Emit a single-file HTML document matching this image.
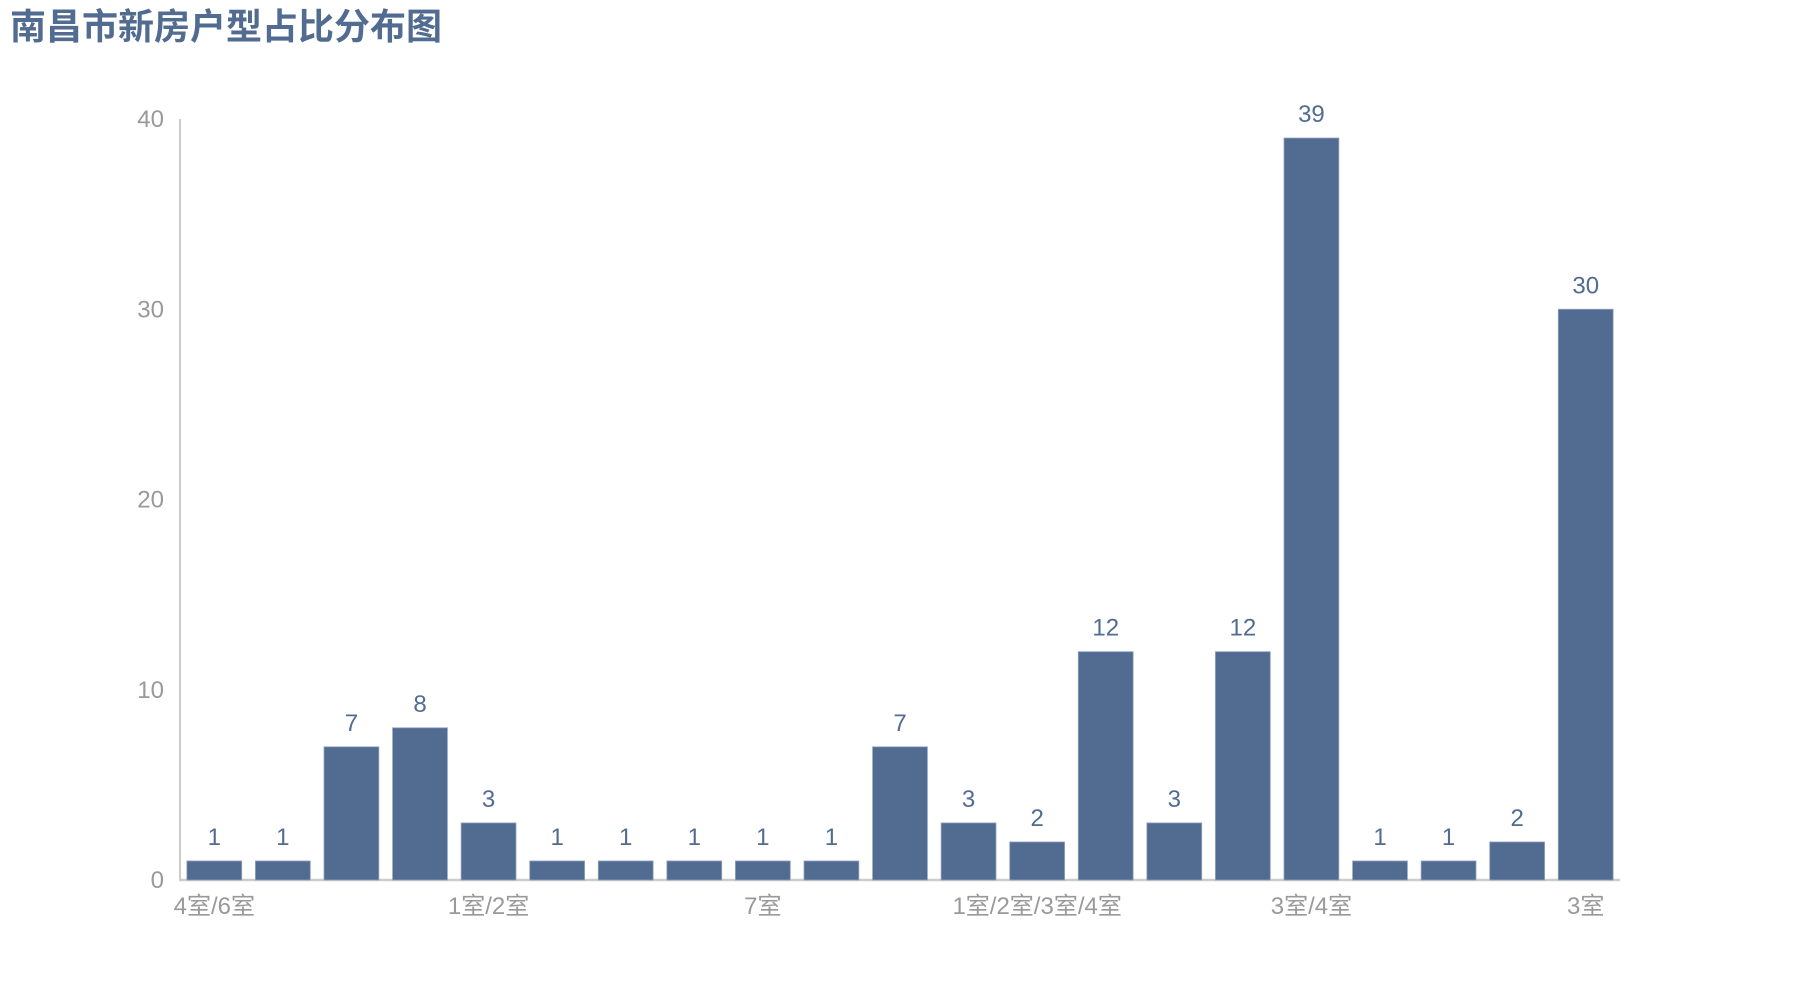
<!DOCTYPE html>
<html><head><meta charset="utf-8">
<style>
html,body{margin:0;padding:0;background:#fff;}
svg{display:block;}
text{font-family:"Liberation Sans","Noto Sans CJK SC",sans-serif;}
</style></head>
<body>
<svg id="chart" width="1800" height="1000" viewBox="0 0 1800 1000" xmlns="http://www.w3.org/2000/svg">
<text x="10" y="39" font-size="36" font-weight="bold" fill="#516b91" style="font-family:'Noto Sans CJK SC',sans-serif">南昌市新房户型占比分布图</text>
<g id="grid"></g>
<g id="bars"></g>
<g id="labels"></g>
</svg>
<script>
const categories = ["4室/6室","5室","2室/3室","1室","1室/2室","2室/4室","3室/5室","4室/5室","7室","5室/6室","4室","2室/3室/4室","1室/2室/3室/4室","3室/4室/5室","6室","2室","3室/4室","1室/3室","2室/5室","3室/6室","3室"];
const counts = [1,1,7,8,3,1,1,1,1,1,7,3,2,12,3,12,39,1,1,2,30];
const yTicks = [0,10,20,30,40];
const shownLabelIdx = [0,4,8,12,16,20];

const NS = "http://www.w3.org/2000/svg";
const x0 = 180, x1 = 1620, yBase = 880, yTop = 119, yMax = 40;
const band = (x1 - x0) / categories.length;
const xScale = i => x0 + band * i;
const yScale = v => yBase - (v / yMax) * (yBase - yTop);
function mk(tag, attrs, parent){const e=document.createElementNS(NS,tag);for(const k in attrs)e.setAttribute(k,attrs[k]);parent.appendChild(e);return e;}
const grid=document.getElementById('grid'), bars=document.getElementById('bars'), labels=document.getElementById('labels');

const yAxis = mk('line',{x1:x0,y1:yTop,x2:x0,y2:yBase,stroke:'#ccc','stroke-width':2},grid);


yTicks.forEach(t=>{
  const tx = mk('text',{x:x0-16,y:yScale(t)+8,'font-size':24,fill:'#999','text-anchor':'end'},grid);
  
  
  tx.textContent=t;
});
counts.forEach((v,i)=>{
  const bx = xScale(i)+band*0.1, bw = band*0.8;
  const r = mk('rect',{x:bx,y:yScale(v),width:bw,height:yBase-yScale(v),fill:'#516b91',stroke:'#8fa3c2','stroke-width':0.8},bars);
  
  
  const lt = mk('text',{x:xScale(i)+band/2,y:yScale(v)-16,'font-size':24,fill:'#516b91','text-anchor':'middle'},labels);
  
  
  lt.textContent=v;
});
const xAxis = mk('line',{x1:x0-1,y1:yBase,x2:x1,y2:yBase,stroke:'#ccc','stroke-width':2.5},grid);


shownLabelIdx.forEach(i=>{
  const tx = mk('text',{x:xScale(i)+band/2,y:914,'font-size':24,fill:'#999','text-anchor':'middle'},labels);
  
  
  tx.textContent=categories[i];
});
</script>
</body></html>
